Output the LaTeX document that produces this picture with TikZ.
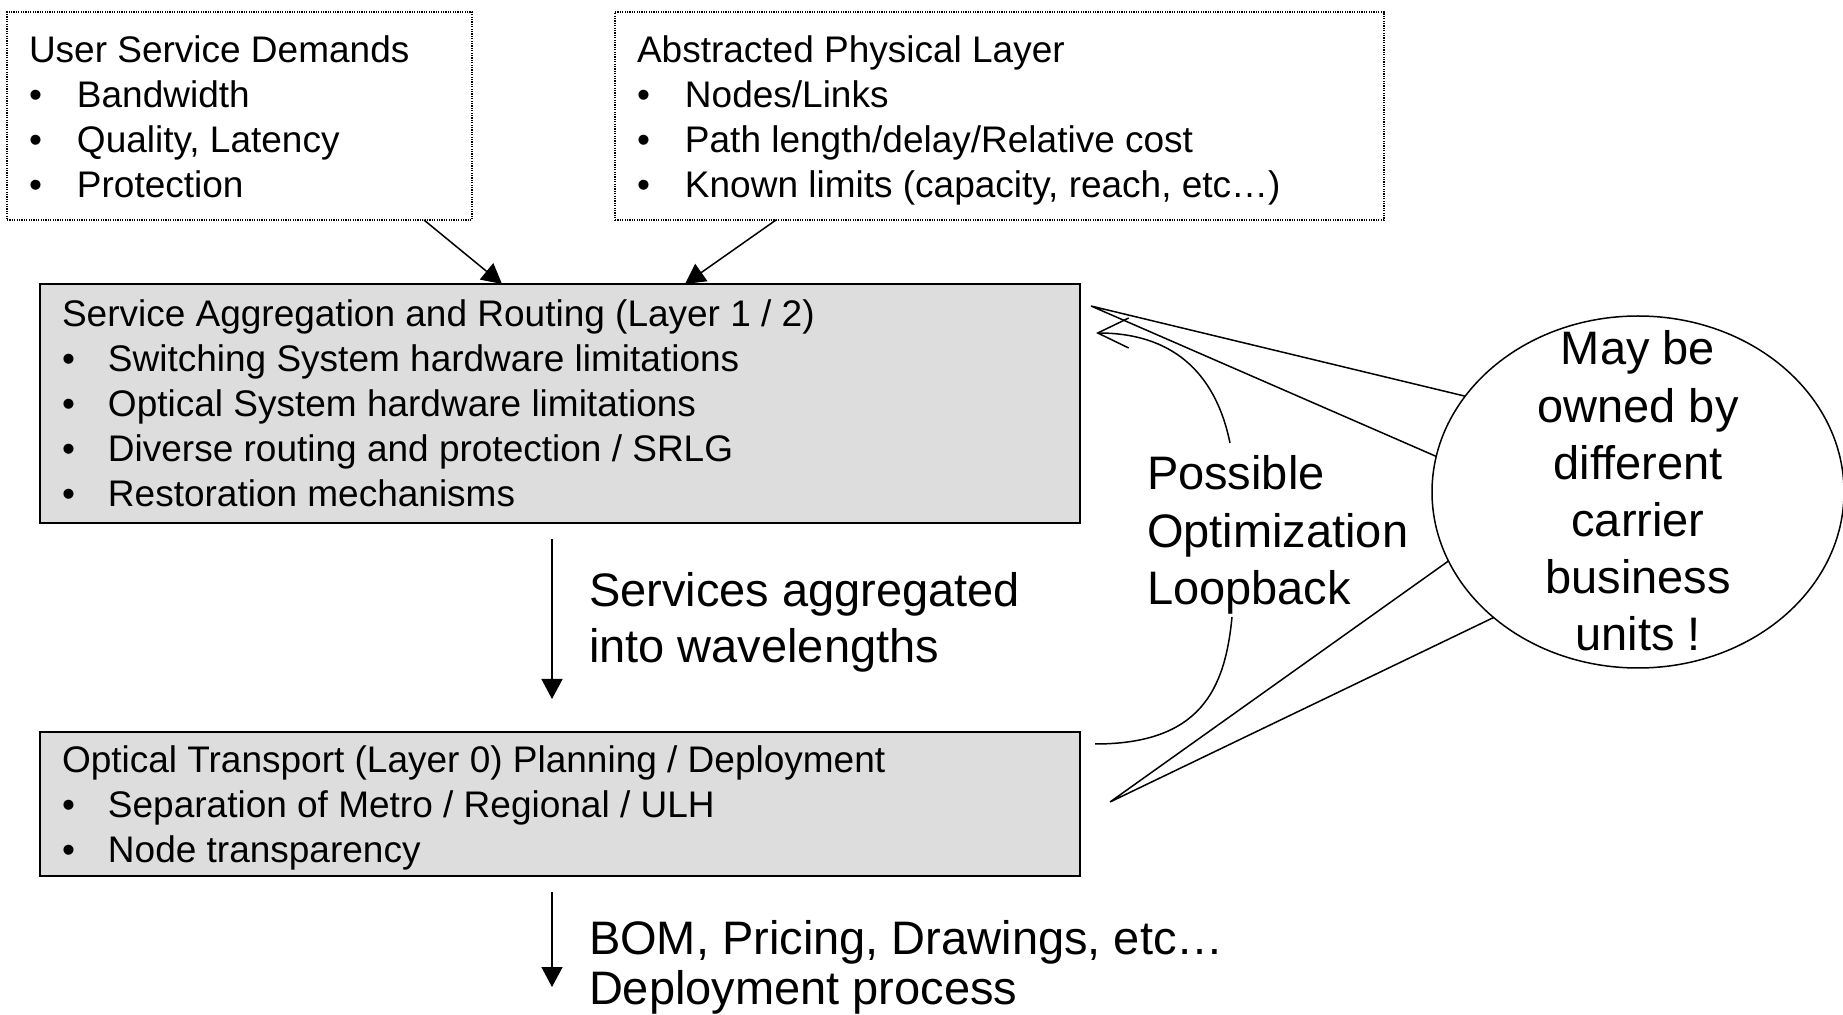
\documentclass[tikz,border=0pt]{standalone}
\usepackage{fontspec}
\setmainfont{Liberation Sans}
\usetikzlibrary{shapes.geometric,arrows.meta}
\definecolor{boxgray}{RGB}{221,221,221}
\newcommand\txtS{\fontsize{18.5pt}{22.5pt}\selectfont}
\newcommand\txtM{\fontsize{23.5pt}{28pt}\selectfont}
\newcommand\txtB{\fontsize{23.5pt}{25pt}\selectfont}
\newcommand\txtL{\fontsize{23.5pt}{28.6pt}\selectfont}
\newcommand\bul[1]{\makebox[#1][l]{•}}
\begin{document}
\begin{tikzpicture}[x=0.5pt,y=-0.5pt,
  dotbox/.style={draw, line width=0.6pt, dash pattern=on 0.6pt off 0.6pt, inner sep=0, outer sep=0, anchor=north west},
  graybox/.style={draw, fill=boxgray, line width=1.1pt, inner sep=0, outer sep=0, anchor=north west},
  txt/.style={inner sep=0, outer sep=0, anchor=base west},
  arr/.style={line width=0.75pt, -{Triangle[length=10pt,width=10.5pt]}},
  conn/.style={line width=0.75pt}]
\clip (0,0) rectangle (1843,1015);
% boxes
\node[dotbox, minimum width=232.5pt, minimum height=104pt] (usd) at (7,12) {};
\node[dotbox, minimum width=384.5pt, minimum height=104pt] (apl) at (615,12) {};
\node[graybox, minimum width=520pt, minimum height=119.5pt] (sar) at (40,284) {};
\node[graybox, minimum width=520pt, minimum height=72pt] (otp) at (40,732) {};
\node[ellipse, draw, fill=white, line width=0.75pt, minimum width=206pt, minimum height=176pt, inner sep=0, outer sep=0] (own) at (1638,492) {};
% texts
\node[txt, font=\txtS] (usdT) at (29,63) {\begin{tabular}[t]{@{}l@{}}User Service Demands\\ \bul{24pt}Bandwidth\\ \bul{24pt}Quality, Latency\\ \bul{24pt}Protection\end{tabular}};
\node[txt, font=\txtS] (aplT) at (637,63) {\begin{tabular}[t]{@{}l@{}}Abstracted Physical Layer\\ \bul{24pt}Nodes/Links\\ \bul{24pt}Path length/delay/Relative cost\\ \bul{24pt}Known limits (capacity, reach, etc…)\end{tabular}};
\node[txt, font=\txtS] (sarT) at (62,327) {\begin{tabular}[t]{@{}l@{}}Service Aggregation and Routing (Layer 1 / 2)\\ \bul{23pt}Switching System hardware limitations\\ \bul{23pt}Optical System hardware limitations\\ \bul{23pt}Diverse routing and protection / SRLG\\ \bul{23pt}Restoration mechanisms\end{tabular}};
\node[txt, font=\txtS] (otpT) at (62,773) {\begin{tabular}[t]{@{}l@{}}Optical Transport (Layer 0) Planning / Deployment\\ \bul{23pt}Separation of Metro / Regional / ULH\\ \bul{23pt}Node transparency\end{tabular}};
\node[txt, font=\txtM] (aggT) at (589,607) {\begin{tabular}[t]{@{}l@{}}Services aggregated\\ into wavelengths\end{tabular}};
\node[txt, font=\txtB] (bomT) at (589,954) {\begin{tabular}[t]{@{}l@{}}BOM, Pricing, Drawings, etc…\\ Deployment process\end{tabular}};
\node[txt, font=\txtL] (loopT) at (1147,490) {\begin{tabular}[t]{@{}l@{}}Possible\\ Optimization\\ Loopback\end{tabular}};
\node[anchor=base, inner sep=0, outer sep=0, font=\txtL] (ownT) at (1638,365) {\begin{tabular}[t]{@{}c@{}}May be\\ owned by\\ different\\ carrier\\ business\\ units !\end{tabular}};
% arrows
\draw[arr] ([xshift=-24pt]usd.south east) -- ([xshift=231pt]sar.north west);
\draw[arr] ([xshift=80.5pt]apl.south west) -- ([xshift=322.5pt]sar.north west);
\draw[arr] ([xshift=256pt,yshift=-8pt]sar.south west) -- ([xshift=256pt,yshift=16.5pt]otp.north west);
\coordinate (bomEnd) at (552,987);
\draw[arr] ([xshift=256pt,yshift=-8pt]otp.south west) -- (bomEnd);
% loopback
\coordinate (lbA) at ([xshift=7.5pt,yshift=-6pt]otp.north east);
\coordinate (lbB) at ([xshift=8pt,yshift=-24.5pt]sar.north east);
\draw[conn, -{Straight Barb[length=15.5pt,width=15pt]}] (lbA) .. controls (1200,744) and (1225,690) .. (1232,617) (1230,443) .. controls (1215,370) and (1170,333) .. (lbB);
% callout lines
\coordinate (ap1) at ([xshift=5.5pt,yshift=-11pt]sar.north east);
\coordinate (ap2) at ([xshift=15pt,yshift=1pt]otp.east);
\draw[conn] (own.151) -- (ap1) -- (own.170.5);
\draw[conn] (own.200.5) -- (ap2) -- (own.221.4);
\end{tikzpicture}
\end{document}
